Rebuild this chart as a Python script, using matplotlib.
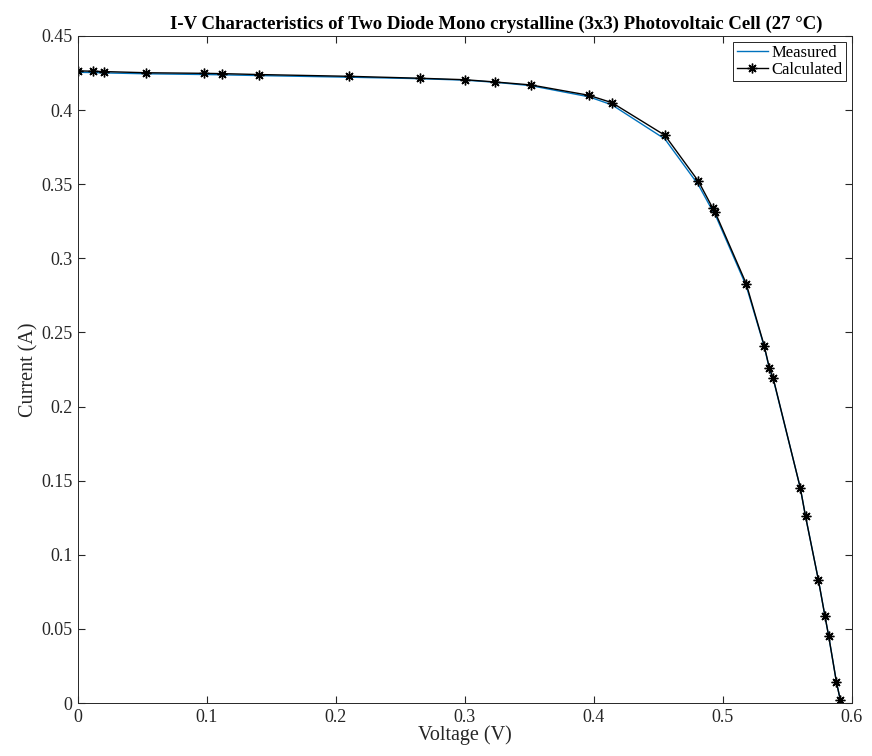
import numpy as np
import matplotlib.pyplot as plt

plt.rcParams['font.family'] = ['Liberation Serif', 'DejaVu Serif']

# Voltage (V) sample points
voltage = [0.0, 0.012, 0.02, 0.053, 0.098, 0.112, 0.14, 0.21, 0.265, 0.30, 0.323,
           0.351, 0.396, 0.414, 0.455, 0.481, 0.492, 0.494, 0.518, 0.532, 0.536,
           0.539, 0.56, 0.564, 0.574, 0.579, 0.582, 0.588, 0.591]
# measured current (A)
i_meas = [0.4255, 0.4253, 0.4251, 0.4245, 0.4240, 0.4238, 0.4233, 0.4222, 0.4212,
          0.4202, 0.4188, 0.4165, 0.4090, 0.4035, 0.3805, 0.3495, 0.3320, 0.3295,
          0.2815, 0.2405, 0.2255, 0.2185, 0.1450, 0.1260, 0.0830, 0.0590, 0.0450,
          0.0140, 0.0020]
# calculated current (A)
i_calc = [0.4265, 0.4262, 0.4260, 0.4252, 0.4248, 0.4246, 0.4240, 0.4228, 0.4215,
          0.4205, 0.4190, 0.4170, 0.4100, 0.4050, 0.3830, 0.3520, 0.3340, 0.3310,
          0.2830, 0.2410, 0.2260, 0.2190, 0.1450, 0.1260, 0.0830, 0.0590, 0.0450,
          0.0140, 0.0020]

fig = plt.figure(figsize=(8.72, 7.56), dpi=100)
ax = fig.add_axes([0.0894, 0.0701, 0.8876, 0.8823])

ax.plot(voltage, i_meas, color='#0072BD', lw=1.0, label='Measured')
ax.plot(voltage, i_calc, color='black', lw=1.0, marker=(8, 2, 0), markersize=7,
        markeredgewidth=1.0, label='Calculated')

ax.set_xlim(0, 0.6)
ax.set_ylim(0, 0.45)
ax.set_xticks(np.arange(0, 0.61, 0.1))
ax.set_xticklabels(['0', '0.1', '0.2', '0.3', '0.4', '0.5', '0.6'])
ax.set_yticks(np.arange(0, 0.451, 0.05))
ax.set_yticklabels(['0', '0.05', '0.1', '0.15', '0.2', '0.25', '0.3', '0.35', '0.4', '0.45'])
ax.tick_params(direction='in', top=True, right=True, labelsize=13, length=5,
               pad=4, color='#262626', labelcolor='#262626')
for s in ax.spines.values():
    s.set_color('#262626')
    s.set_linewidth(0.7)

ax.set_xlabel('Voltage (V)', fontsize=14.5, labelpad=0, color='#262626')
ax.set_ylabel('Current (A)', fontsize=14.5, labelpad=2, color='#262626')
ax.set_title('I-V Characteristics of Two Diode Mono crystalline (3x3) Photovoltaic Cell (27 \u00b0C)',
             fontsize=13.5, fontweight='bold', pad=5, x=0.541)

leg = ax.legend(loc='upper right', fontsize=12, fancybox=False, framealpha=1,
                edgecolor='#262626', borderaxespad=0.35, handlelength=1.9,
                borderpad=0.2, labelspacing=0.05, handletextpad=0.2)
leg.get_frame().set_linewidth(0.7)

fig.savefig('out.png', dpi=100)
